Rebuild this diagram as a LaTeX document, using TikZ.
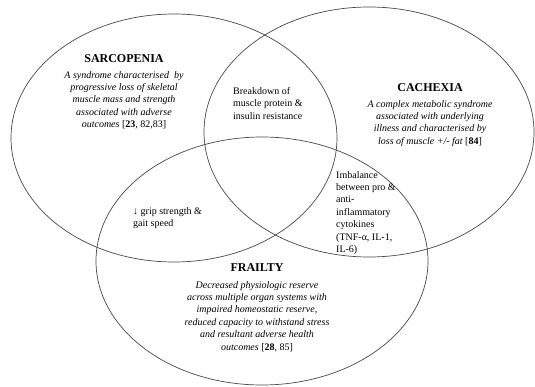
\documentclass[tikz,border=0pt]{standalone}
\usepackage{fontspec}
\setmainfont{Liberation Serif}
\begin{document}
\begin{tikzpicture}[x=1pt,y=-1pt,
  ring/.style={draw=black!72,line width=0.7pt},
  title/.style={anchor=north,inner sep=0pt,font=\fontsize{12}{14}\selectfont\bfseries},
  desc/.style={anchor=north,inner sep=0pt,align=center,font=\fontsize{10}{12.4}\selectfont\itshape},
  overlap/.style={anchor=north west,inner sep=0pt,align=left,font=\fontsize{10}{12.4}\selectfont}]
\useasboundingbox (0,0) rectangle (535,387);
% the three overlapping sets
\draw[ring] (174,138) ellipse [x radius=163pt,y radius=124pt];
\draw[ring] (369,132) ellipse [x radius=165pt,y radius=125pt];
\draw[ring] (262,261) ellipse [x radius=166pt,y radius=124pt];
% sarcopenia
\node[title] (sarcT) at (124,54) {SARCOPENIA};
\node[desc] (sarcD) at (124,71) {A syndrome characterised\ \ by\\progressive loss of skeletal\\muscle mass and strength\\associated with adverse\\outcomes \upshape[\textbf{23}, 82,83]};
% cachexia
\node[title] (cachT) at (430,83) {CACHEXIA};
\node[desc] (cachD) at (430,100) {A complex metabolic syndrome\\associated with underlying\\illness and characterised by\\loss of muscle +/- fat \upshape[\textbf{84}]};
% frailty
\node[title] (frailT) at (257,263) {FRAILTY};
\node[desc] (frailD) at (257,281) {Decreased physiologic reserve\\across multiple organ systems with\\impaired homeostatic reserve,\\reduced capacity to withstand stress\\and resultant adverse health\\outcomes \upshape[\textbf{28}, 85]};
% shared features in the overlaps
\node[overlap] (sarcCach) at (233,87) {Breakdown of\\muscle protein \&\\insulin resistance};
\node[overlap] (sarcFrail) at (133,207) {↓ grip strength \&\\gait speed};
\node[overlap] (cachFrail) at (336,171) {Imbalance\\between pro \&\\anti-\\inflammatory\\cytokines\\(TNF-α, IL-1,\\IL-6)};
\end{tikzpicture}
\end{document}
